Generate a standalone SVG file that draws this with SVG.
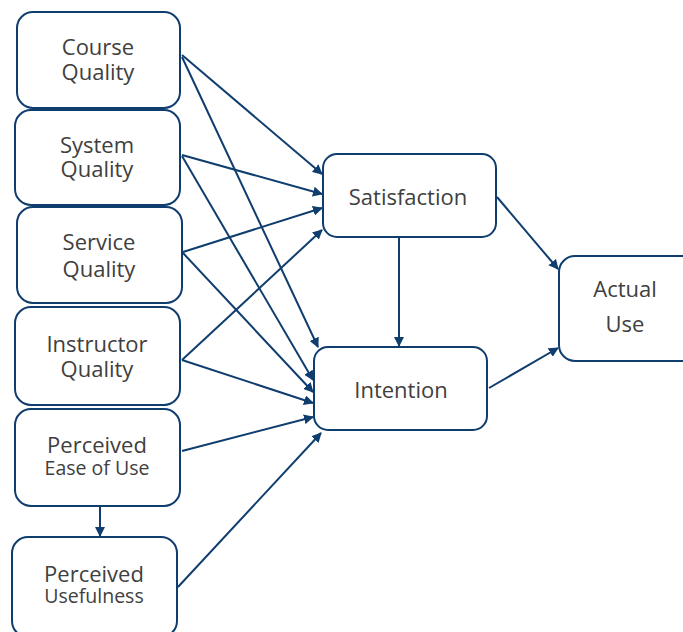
<svg xmlns="http://www.w3.org/2000/svg" width="683" height="632" viewBox="0 0 683 632">
<style>
.box{fill:#fff;stroke:#0f3d6e;stroke-width:2}
.t{font-family:"Open Sans","Noto Sans",sans-serif;font-size:22px;fill:#404040;text-anchor:middle}
.s{font-size:19.5px}
.c{fill:none;stroke:#0f3d6e;stroke-width:2;marker-end:url(#ah)}
</style>
<defs>
<marker id="ah" viewBox="0 0 10 10" refX="9" refY="5" markerWidth="5" markerHeight="5" orient="auto" markerUnits="strokeWidth">
<path d="M0,0 L10,5 L0,10 z" fill="#0f3d6e"/>
</marker>
</defs>
<rect width="683" height="632" fill="#fff"/>
<g id="connectors">
<line class="c" x1="182" y1="55" x2="322" y2="174"/>
<line class="c" x1="182" y1="57" x2="318" y2="347"/>
<line class="c" x1="182" y1="155" x2="322" y2="194"/>
<line class="c" x1="182" y1="156" x2="313" y2="380"/>
<line class="c" x1="183" y1="252" x2="322" y2="208"/>
<line class="c" x1="183" y1="253" x2="313" y2="392"/>
<line class="c" x1="182" y1="360" x2="322" y2="230"/>
<line class="c" x1="182" y1="360" x2="313" y2="403"/>
<line class="c" x1="182" y1="451" x2="313" y2="417"/>
<line class="c" x1="178" y1="587" x2="321" y2="433"/>
<line class="c" x1="100" y1="506" x2="100" y2="536"/>
<line class="c" x1="399" y1="237" x2="399" y2="346"/>
<line class="c" x1="497" y1="197" x2="558" y2="269"/>
<line class="c" x1="489" y1="388" x2="558" y2="348"/>
</g>
<g id="course"><rect class="box" x="17" y="12" width="163" height="96" rx="16"/><text class="t" x="98" y="55">Course</text><text class="t" x="98" y="80">Quality</text></g>
<g id="system"><rect class="box" x="15" y="110" width="165" height="95" rx="16"/><text class="t" x="97" y="153">System</text><text class="t" x="97" y="177">Quality</text></g>
<g id="service"><rect class="box" x="17" y="207" width="165" height="96" rx="16"/><text class="t" x="99" y="250">Service</text><text class="t" x="99" y="277">Quality</text></g>
<g id="instructor"><rect class="box" x="15" y="307" width="165" height="98" rx="16"/><text class="t" x="97" y="352">Instructor</text><text class="t" x="97" y="377">Quality</text></g>
<g id="ease"><rect class="box" x="15" y="409" width="165" height="97" rx="16"/><text class="t" x="97" y="453">Perceived</text><text class="t s" x="97" y="475">Ease of Use</text></g>
<g id="usefulness"><rect class="box" x="12" y="537" width="165" height="100" rx="16"/><text class="t" x="94" y="582">Perceived</text><text class="t s" x="94" y="603">Usefulness</text></g>
<g id="satisfaction"><rect class="box" x="323" y="154" width="173" height="83" rx="14"/><text class="t" x="408" y="205">Satisfaction</text></g>
<g id="intention"><rect class="box" x="314" y="347" width="173" height="83" rx="14"/><text class="t" x="401" y="398">Intention</text></g>
<g id="actual"><rect class="box" x="559" y="256" width="140" height="105" rx="16"/><text class="t" x="625" y="297">Actual</text><text class="t" x="625" y="332">Use</text></g>
</svg>
